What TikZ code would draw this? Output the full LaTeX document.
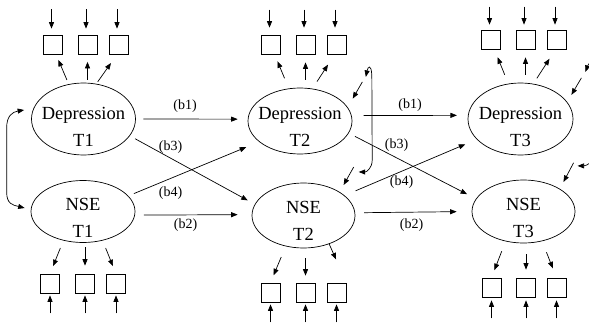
\documentclass[tikz,border=0pt]{standalone}
\usepackage{fontspec}
\setmainfont{Liberation Serif}
\newfontfamily\diagserif{Liberation Serif}
\usetikzlibrary{arrows.meta,calc,shapes.geometric}
\begin{document}
\begin{tikzpicture}[x=1pt,y=-1pt,
  lat/.style={draw, ellipse, line width=0.7pt, inner sep=0pt, minimum width=104pt},
  ind/.style={draw, rectangle, line width=0.7pt, minimum size=19pt, inner sep=0pt},
  arr/.style={line width=0.7pt, -{Triangle[length=6.5pt,width=5pt]}},
  cov/.style={line width=0.7pt, {Triangle[length=6.5pt,width=5pt]}-{Triangle[length=6.5pt,width=5pt]}},
  lab/.style={font=\diagserif\fontsize{14}{16}\selectfont, inner sep=0pt},
  latlab/.style={font=\diagserif\fontsize{18.5}{27}\selectfont, align=center, inner sep=0pt}
]
\useasboundingbox (0,0) rectangle (589,324);
\clip (0,0) rectangle (589,324);

% latent variables
\node[lat, minimum height=72pt] (d1) at (83.5,119) {};
\node[lat, minimum height=62pt] (n1) at (83,211.5) {};
\node[lat, minimum height=66pt] (d2) at (300,121) {};
\node[lat, minimum height=65pt, minimum width=103pt] (n2) at (303.5,215.5) {};
\node[lat, minimum height=72pt, minimum width=105pt] (d3) at (520.5,119) {};
\node[lat, minimum height=63pt, minimum width=103pt] (n3) at (523.5,211.5) {};

\node[latlab] (d1t) at ([yshift=-7.5pt]d1.center) {Depression\\T1};
\node[latlab] (n1t) at ([yshift=-6.5pt]n1.center) {NSE\\T1};
\node[latlab] (d2t) at ([yshift=-5.5pt]d2.center) {Depression\\T2};
\node[latlab] (n2t) at ([yshift=-5pt]n2.center) {NSE\\T2};
\node[latlab] (d3t) at ([yshift=-8pt]d3.center) {Depression\\T3};
\node[latlab] (n3t) at ([yshift=-6pt]n3.center) {NSE\\T3};

% indicators
\node[ind] (d1a) at (53,45) {};
\node[ind] (d1b) at (87.5,45) {};
\node[ind] (d1c) at (118.5,45) {};
\node[ind] (d2a) at (271,45) {};
\node[ind] (d2b) at (305.5,45) {};
\node[ind] (d2c) at (336.5,45) {};
\node[ind] (d3a) at (491,40) {};
\node[ind] (d3b) at (525.5,40) {};
\node[ind] (d3c) at (556.5,40) {};
\node[ind] (n1a) at (50,283.5) {};
\node[ind] (n1b) at (85,283.5) {};
\node[ind] (n1c) at (116,283.5) {};
\node[ind] (n2a) at (270.5,292.5) {};
\node[ind] (n2b) at (305.5,292.5) {};
\node[ind] (n2c) at (336.5,292.5) {};
\node[ind] (n3a) at (491.5,287.5) {};
\node[ind] (n3b) at (526,287.5) {};
\node[ind] (n3c) at (556.5,287.5) {};

% loadings
\draw[arr, shorten <=4.5, shorten >=5.5] (d1.113) -- (d1a.-72);
\draw[arr, shorten <=3, shorten >=7] (d1b.south |- d1.north) -- (d1b.south);
\draw[arr, shorten <=2.5, shorten >=10] (d1.70) -- (d1c.-100);
\draw[arr, shorten <=11, shorten >=7] (d2.109) -- (d2a.-69);
\draw[arr, shorten <=8, shorten >=7.5] (d2b.south |- d2.north) -- (d2b.south);
\draw[arr, shorten <=8.4, shorten >=11.7] (d2.69.4) -- (d2c.-102);
\draw[arr, shorten <=9.5, shorten >=8] (d3.109.4) -- (d3a.-70.6);
\draw[arr, shorten <=8, shorten >=7.5] (d3b.south |- d3.north) -- (d3b.south);
\draw[arr, shorten <=6.4, shorten >=10.6] (d3.70.5) -- (d3c.-97);
\draw[arr, shorten <=8, shorten >=8] (n1.-124) -- (n1a.north);
\draw[arr, shorten <=4.5, shorten >=8] (n1b.north |- n1.south) -- (n1b.north);
\draw[arr, shorten <=8, shorten >=8] (n1.-56) -- (n1c.north);
\draw[arr, shorten <=11.6, shorten >=8] (n2.-120) -- (n2a.north);
\draw[arr, shorten <=10, shorten >=7] (n2b.north |- n2.south) -- (n2b.north);
\draw[arr, shorten >=25.4] (n2.-48.4) -- (n2c.north east);
\draw[arr, shorten <=10.5, shorten >=8] (n3.-121.4) -- (n3a.north);
\draw[arr, shorten <=11, shorten >=8] (n3b.north |- n3.south) -- (n3b.north);
\draw[arr, shorten <=11.8, shorten >=10] (n3.-58.2) -- (n3c.north);

% measurement errors
\foreach \b in {d1a,d1b,d1c}{\draw[arr, shorten >=6.5] (\b.north) ++(-1.5,-26) -- ([xshift=-1.5pt]\b.north);}
\foreach \b in {d2a,d2b,d2c}{\draw[arr, shorten >=7.5] (\b.north) ++(-1.5,-25.5) -- ([xshift=-1.5pt]\b.north);}
\foreach \b in {d3a,d3b,d3c}{\draw[arr, shorten >=5.5] (\b.north) ++(-1.5,-23.5) -- ([xshift=-1.5pt]\b.north);}
\foreach \b in {n1a,n1b,n1c}{\draw[arr, shorten >=2] (\b.south) ++(0,20) -- (\b.south);}
\foreach \b in {n2a,n2b,n2c}{\draw[arr, shorten >=2] (\b.south) ++(0,20) -- (\b.south);}
\foreach \b in {n3a,n3b,n3c}{\draw[arr, shorten >=3] (\b.south) ++(0,21) -- (\b.south);}

% structural paths
\draw[arr, shorten <=7.5, shorten >=10] (d1.east) -- (d2.178);
\draw[arr, shorten <=6, shorten >=8] (d1.-20) -- (n2.167.5);
\draw[arr, shorten <=6, shorten >=14] (n1.19) -- (d2.207);
\draw[arr, shorten <=9, shorten >=14] (n1.-4) -- (n2.179);
\draw[arr, shorten <=12, shorten >=11] (d2.6) -- (d3.176.4);
\draw[arr, shorten <=7, shorten >=10] (d2.-14.3) -- (n3.165.8);
\draw[arr, shorten <=12, shorten >=12.5] (n2.26.3) -- (d3.205.5);
\draw[arr, shorten <=9, shorten >=15] (n2.3.3) -- (n3.180);

\node[lab] (l1) at (185,106) {(b1)};
\node[lab] (l3) at (170.5,147.5) {(b3)};
\node[lab] (l4) at (170.5,193) {(b4)};
\node[lab] (l2) at (185.5,225.5) {(b2)};
\node[lab] (m1) at (410,105.5) {(b1)};
\node[lab] (m3) at (396.5,145) {(b3)};
\node[lab] (m4) at (401.5,182.5) {(b4)};
\node[lab] (m2) at (411.5,225.5) {(b2)};

% disturbances
\draw[arr, shorten >=10] (d2.16) ++(14.6,-25.4) coordinate (ed2) -- (d2.16);
\draw[arr, shorten >=8] (n2.33.5) ++(14,-25) coordinate (en2) -- (n2.33.5);
\draw[arr, shorten >=8.3] (d3.20) ++(14.2,-24.1) coordinate (ed3) -- (d3.20);
\draw[arr, shorten >=7.7] (n3.32.3) ++(13.7,-25.9) coordinate (en3) -- (n3.32.3);

% covariances
\draw[cov] ([shift={(-7,-9)}]d1.west) .. controls +(-12,2) and +(0,-12) .. ++(-17.5,18)
  -- ([shift={(-24,-19.5)}]n1.west) .. controls +(0,12) and +(-12,-3) .. ([shift={(-6,-3.5)}]n1.west);
\draw[cov] ([shift={(3.5,-5)}]ed2) .. controls +(2,-10) and +(-0.5,-13) .. ++(6,-1)
  -- ([shift={(18.5,-7)}]en2) .. controls +(0,8) and +(8,0) .. ([shift={(5,5)}]en2);
\draw[cov] ([shift={(4,-6)}]ed3) .. controls +(4,-11) and +(0,-13) .. ++(10,0)
  -- ([shift={(22,-12)}]en3) .. controls +(0,10) and +(9,0) .. ([shift={(4,3)}]en3);
\end{tikzpicture}
\end{document}
